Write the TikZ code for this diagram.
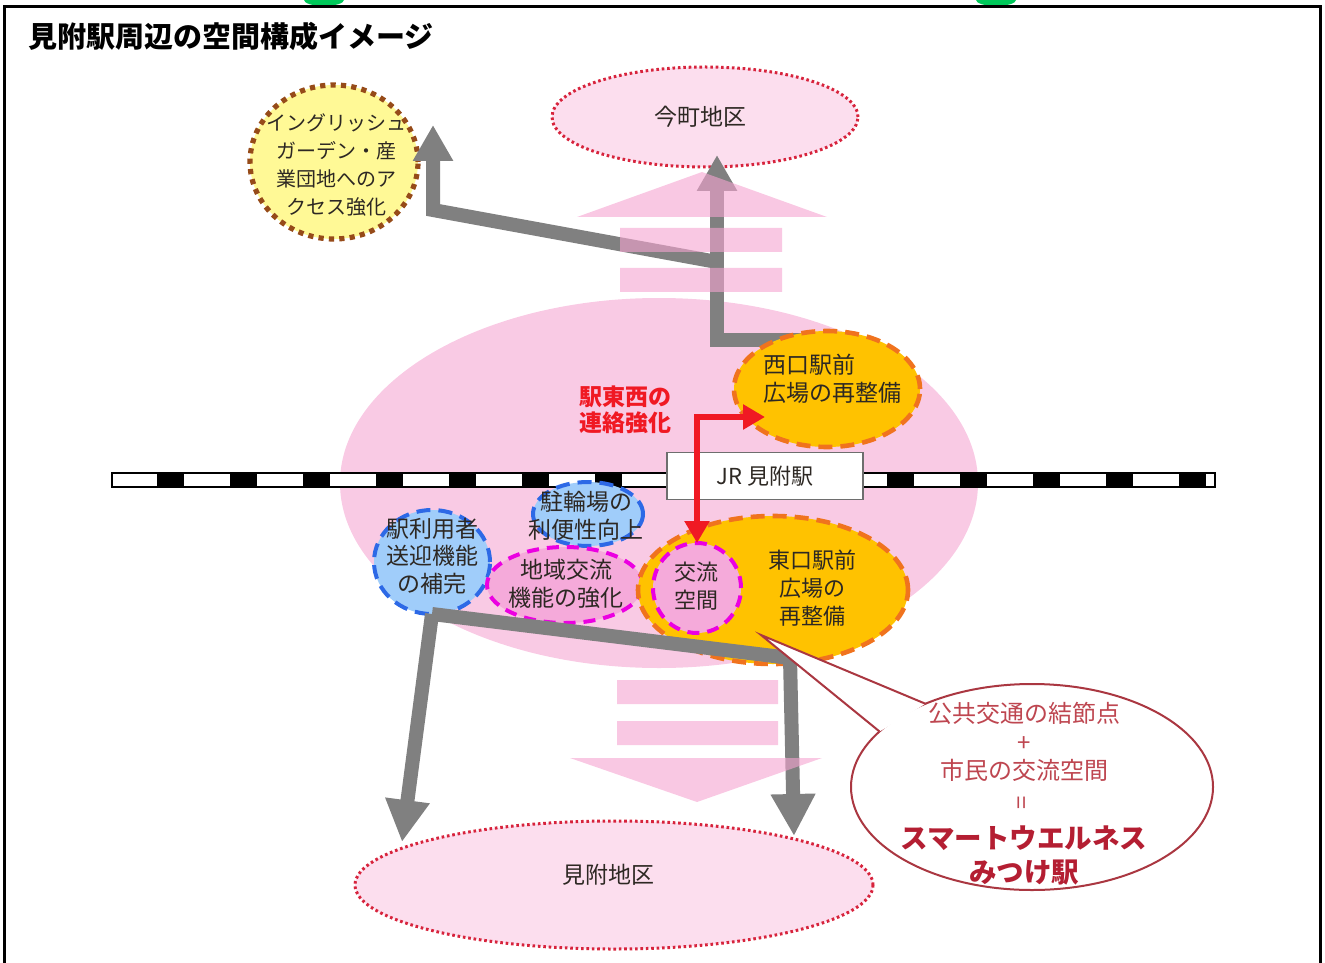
\documentclass[tikz,border=0pt]{standalone}
\usepackage{fontspec}
\setmainfont{Noto Sans CJK JP}
\usetikzlibrary{arrows.meta,positioning,shapes.geometric}
\pgfdeclarelayer{back}
\pgfsetlayers{back,main}
\definecolor{areapink}{RGB}{249,202,228}
\definecolor{zonepink}{RGB}{252,222,238}
\definecolor{dotred}{RGB}{215,35,60}
\definecolor{gold}{RGB}{255,194,0}
\definecolor{dashorange}{RGB}{240,115,30}
\definecolor{lightblue}{RGB}{160,205,250}
\definecolor{dashblue}{RGB}{45,105,230}
\definecolor{spotpink}{RGB}{245,170,218}
\definecolor{dashmagenta}{RGB}{235,0,225}
\definecolor{gardenyellow}{RGB}{255,249,150}
\definecolor{gardendot}{RGB}{150,75,25}
\definecolor{flow}{RGB}{128,128,128}
\definecolor{flowpink}{RGB}{245,163,208}
\definecolor{linkred}{RGB}{240,25,35}
\definecolor{bubred}{RGB}{180,30,50}
\definecolor{bubtext}{RGB}{190,70,80}
\definecolor{bubline}{RGB}{170,55,65}
\definecolor{ink}{RGB}{45,40,35}
\definecolor{boxgray}{RGB}{110,110,110}
\definecolor{topgreen}{RGB}{0,200,90}

\begin{document}
\begin{tikzpicture}[x=0.5pt, y=-0.5pt, >=Latex, font=\fontsize{11}{14}\selectfont,
  blob/.style={ellipse,inner sep=0pt,outer sep=0pt},
  zone/.style={blob,fill=zonepink,draw=dotred,line width=1.5pt,dash pattern=on 1.3pt off 1.4pt},
  plaza/.style={blob,fill=gold,draw=dashorange,line width=2.3pt,dash pattern=on 7pt off 4pt},
  spot/.style={blob,fill=spotpink,draw=dashmagenta,line width=2pt,dash pattern=on 6pt off 4pt},
  service/.style={blob,fill=lightblue,draw=dashblue,line width=2pt,dash pattern=on 7pt off 4pt},
  txt/.style={align=center,text=ink,inner sep=0pt},
  flowarr/.style={draw=flow,line width=7pt,-{Triangle[width=19pt,length=18pt]}},
  bigtip/.style={-{Triangle[width=21pt,length=21pt]}},
  linkarr/.style={draw=linkred,line width=3pt,{Triangle[width=12pt,length=11pt]}-{Triangle[width=12pt,length=11pt]}}]

% frame and title
\useasboundingbox (0,0) rectangle (1325,962);
\fill[topgreen] (324,0) ellipse [x radius=10pt, y radius=3pt];
\fill[topgreen] (996,0) ellipse [x radius=10pt, y radius=3pt];
\draw[line width=1.5pt] (4,975) |- (1320,7) -- (1320,975);
\node[anchor=west,inner sep=0pt,font=\fontsize{14.5}{17}\selectfont\bfseries] (title) at (28,36) {見附駅周辺の空間構成イメージ};

% districts and station area
\begin{pgfonlayer}{back}
\node[blob,fill=areapink,minimum width=319pt,minimum height=185pt] (area) at (659,483) {};
\node[zone,minimum width=153pt,minimum height=50pt] (imamachi) at (705,117) {};
\node[txt,font=\fontsize{11.5}{14}\selectfont] (imamachi-t) at (700,117) {今町地区};
\node[blob,fill=gardenyellow,draw=gardendot,line width=2.6pt,dash pattern=on 2.6pt off 2.6pt,minimum width=84pt,minimum height=77pt] (garden) at (334,162) {};
\node[txt,font=\fontsize{10}{14}\selectfont] (garden-t) at (336,165) {イングリッシュ\\ガーデン・産\\業団地へのア\\クセス強化};
\end{pgfonlayer}
\node[zone,minimum width=259pt,minimum height=64pt] (mitsuke) at (614,885) {};
\node[txt,font=\fontsize{11.5}{14}\selectfont] (mitsuke-t) at (608,875) {見附地区};

% rail and station
\draw[fill=white,line width=1pt] (112,473) rectangle (1215,487);
\foreach \k in {0,...,14}
  \fill ({157+73*\k},473) rectangle +(27,14);
\node[txt,draw=boxgray,fill=white,line width=0.8pt,minimum width=98pt,minimum height=23.5pt] (station) at (765,476) {JR 見附駅};

% west side
\node[plaza,minimum width=93pt,minimum height=58pt] (nishi) at (827,389) {};
\node[txt,align=left,font=\fontsize{11.5}{14}\selectfont] (nishi-t) at (832,379) {西口駅前\\広場の再整備};
\node[txt,text=linkred,font=\fontsize{11.5}{13}\selectfont\bfseries] (link-t) at (625,410) {駅東西の\\連絡強化};

% east side
\node[service,minimum width=58pt,minimum height=52pt] (sougei) at (432,562) {};
\node[service,minimum width=55pt,minimum height=32pt] (churin) at (588,514) {};
\node[spot,minimum width=78pt,minimum height=38pt] (chiiki) at (565,585) {};
\node[plaza,minimum width=135pt,minimum height=74pt] (higashi) at (773,590) {};
\node[spot,minimum width=44pt,minimum height=45pt] (koryu) at (697,588) {};
\node[txt,font=\fontsize{11.5}{13.75}\selectfont] (sougei-t) at (432,556) {駅利用者\\送迎機能\\の補完};
\node[txt,font=\fontsize{11.5}{14}\selectfont] (churin-t) at (586,516) {駐輪場の\\利便性向上};
\node[txt,font=\fontsize{11.5}{14}\selectfont] (chiiki-t) at (566,584) {地域交流\\機能の強化};
\node[txt,font=\fontsize{11}{14}\selectfont] (higashi-t) at (812,588) {東口駅前\\広場の\\再整備};
\node[txt,font=\fontsize{11}{14}\selectfont] (koryu-t) at (696,586) {交流\\空間};

% flows to the north
\coordinate (wbend) at (717,340);
\coordinate (wtip) at (717,155);
\coordinate (gjoin) at (717,262);
\coordinate (gbend) at (433,210);
\coordinate (gtip) at (433,125);
\begin{pgfonlayer}{back}
\draw[flowarr] (nishi.center |- wbend) -- (wbend) -- (wtip);
\draw[flowarr] (gjoin) -- (gbend) -- (gtip);
\fill[flowpink,opacity=0.6] (577,217) -- (702,172) -- (827,217) -- cycle
  (620,228) rectangle (782,252) (620,268) rectangle (782,292);
\end{pgfonlayer}

% east-west link
\coordinate (rtip) at (765,417);
\draw[linkarr] (koryu.north) |- (rtip);

% flows to the south
\coordinate (ltip) at (402,842);
\coordinate (ebend) at (790,658);
\coordinate (etip) at (794,836);
\draw[flowarr,bigtip] (sougei.south) -- (ltip);
\draw[flowarr,bigtip] (sougei.south) -- (ebend) -- (etip);
\fill[flowpink,opacity=0.6] (617,680) rectangle (778,704) (617,721) rectangle (778,745)
  (570,758) -- (822,758) -- (697,802) -- cycle;

% callout
\node[blob,fill=white,draw=bubline,line width=1pt,minimum width=181pt,minimum height=103pt] (bubble) at (1032,787) {};
\coordinate (btip) at (761,635);
\fill[white] (bubble.142) -- (btip) -- (bubble.160) -- cycle;
\draw[bubline,line width=1pt] (bubble.142) -- (btip) -- (bubble.160);
\node[txt,text=bubtext,font=\fontsize{12}{14.25}\selectfont] (bub-t) at (1024,742) {公共交通の結節点\\+\\市民の交流空間};
\node[txt,text=bubtext,rotate=90,font=\fontsize{12}{14}\selectfont] (bub-eq) at (1024,803) {=};
\node[txt,text=bubred,font=\fontsize{13.75}{17}\selectfont\bfseries] (bub-name) at (1024,855) {スマートウエルネス\\みつけ駅};

\end{tikzpicture}
\end{document}
